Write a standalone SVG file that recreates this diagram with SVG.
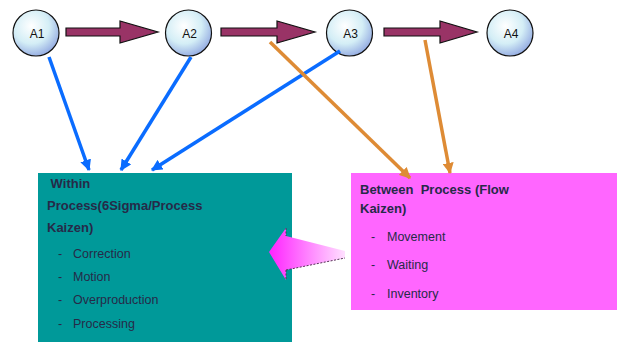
<svg xmlns="http://www.w3.org/2000/svg" width="618" height="346" viewBox="0 0 618 346">
  <defs>
    <radialGradient id="bubble" cx="0.4" cy="0.35" r="0.7">
      <stop offset="0" stop-color="#ffffff"/>
      <stop offset="0.55" stop-color="#d4eef6"/>
      <stop offset="1" stop-color="#8fa6e0"/>
    </radialGradient>
    <linearGradient id="pinkFade" x1="0" y1="0" x2="1" y2="0">
      <stop offset="0" stop-color="#ff22ff"/>
      <stop offset="1" stop-color="#ffe0ff"/>
    </linearGradient>
    <marker id="headBlue" viewBox="0 0 10 10" refX="9" refY="5" markerWidth="3.2" markerHeight="3.2" orient="auto" markerUnits="strokeWidth">
      <path d="M0,0 L10,5 L0,10 Z" fill="#0a6cff"/>
    </marker>
    <marker id="headOrange" viewBox="0 0 10 10" refX="9" refY="5" markerWidth="3.2" markerHeight="3.2" orient="auto" markerUnits="strokeWidth">
      <path d="M0,0 L10,5 L0,10 Z" fill="#de8b35"/>
    </marker>
  </defs>
  <style>
    .node circle { fill: url(#bubble); stroke: #111; stroke-width: 1.2; }
    .node text { font-family: "Liberation Sans", Arial, sans-serif; font-size: 12px; fill: #111; text-anchor: middle; }
    .flow { fill: #993366; stroke: #111; stroke-width: 1.2; stroke-linejoin: miter; }
    .blue { stroke: #0a6cff; stroke-width: 3.5; fill: none; marker-end: url(#headBlue); }
    .orange { stroke: #de8b35; stroke-width: 3.5; fill: none; marker-end: url(#headOrange); }
    .t { font-family: "Liberation Sans", Arial, sans-serif; fill: #262a48; }
    .h { font-size: 13px; font-weight: bold; }
    .i { font-size: 12.5px; }
  </style>

  <rect width="618" height="346" fill="#ffffff"/>

  <!-- process boxes -->
  <g id="within">
    <rect x="38" y="173" width="254" height="169" fill="#009999"/>
    <text class="t h" x="47" y="188" xml:space="preserve"> Within</text>
    <text class="t h" x="47" y="210">Process(6Sigma/Process</text>
    <text class="t h" x="47" y="232">Kaizen)</text>
    <text class="t i" x="58" y="258">-</text><text class="t i" x="73" y="258">Correction</text>
    <text class="t i" x="58" y="281">-</text><text class="t i" x="73" y="281">Motion</text>
    <text class="t i" x="58" y="304">-</text><text class="t i" x="73" y="304">Overproduction</text>
    <text class="t i" x="58" y="328">-</text><text class="t i" x="73" y="328">Processing</text>
  </g>

  <g id="between">
    <rect x="351" y="173" width="266" height="137" fill="#ff66ff"/>
    <text class="t h" x="360" y="194" xml:space="preserve">Between  Process (Flow</text>
    <text class="t h" x="360" y="213">Kaizen)</text>
    <text class="t i" x="371" y="241">-</text><text class="t i" x="387" y="241">Movement</text>
    <text class="t i" x="371" y="269">-</text><text class="t i" x="387" y="269">Waiting</text>
    <text class="t i" x="371" y="298">-</text><text class="t i" x="387" y="298">Inventory</text>
  </g>

  <!-- activity nodes -->
  <g id="A1" class="node"><circle cx="36" cy="33" r="23"/><text x="37" y="38">A1</text></g>
  <g id="A2" class="node"><circle cx="188.5" cy="33" r="23"/><text x="189.5" y="38">A2</text></g>
  <g id="A3" class="node"><circle cx="349.5" cy="33" r="23"/><text x="350.5" y="38">A3</text></g>
  <g id="A4" class="node"><circle cx="510" cy="33" r="23"/><text x="511" y="38">A4</text></g>

  <g id="connectors">
    <!-- sequence arrows -->
    <path class="flow" d="M66,28 H120 V21 L158,32 L120,43 V36 H66 Z"/>
    <path class="flow" d="M221,28 H277 V21 L315,32 L277,43 V36 H221 Z"/>
    <path class="flow" d="M384,28 H440 V21 L477,32 L440,43 V36 H384 Z"/>

    <!-- waste links -->
    <line class="blue" x1="49" y1="57" x2="89" y2="170"/>
    <line class="blue" x1="191" y1="57" x2="121" y2="170"/>
    <line class="blue" x1="340" y1="51" x2="152" y2="170"/>
    <line class="orange" x1="270" y1="42" x2="410" y2="178"/>
    <line class="orange" x1="425" y1="40" x2="450" y2="173"/>

    <!-- feedback arrow between boxes -->
    <path d="M269,252 L286,228 V236 L345,251 V258 L286,270 V280 Z" fill="url(#pinkFade)"/>
    <path d="M286,228 V236 M286,270 V280 M286,270 L345,258" fill="none" stroke="#553355" stroke-width="1" stroke-dasharray="2,1.5"/>
  </g>
</svg>
